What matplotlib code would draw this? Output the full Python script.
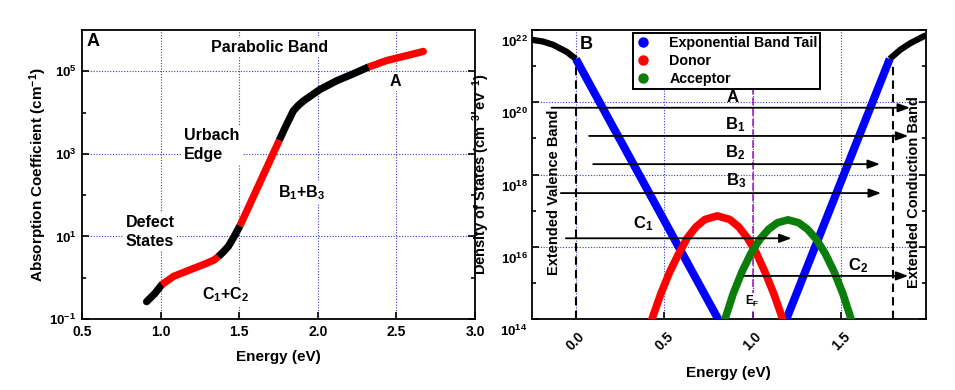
import numpy as np
import matplotlib
matplotlib.use('Agg')
import matplotlib.pyplot as plt
from matplotlib.lines import Line2D
from matplotlib.ticker import FixedLocator, NullFormatter
from matplotlib.transforms import ScaledTranslation

plt.rcParams['font.family'] = ['Liberation Sans', 'DejaVu Sans']
plt.rcParams['font.weight'] = 'bold'
plt.rcParams['axes.labelweight'] = 'bold'
plt.rcParams['mathtext.fontset'] = 'custom'
plt.rcParams['mathtext.rm'] = 'Liberation Sans:bold'
plt.rcParams['mathtext.it'] = 'Liberation Sans:bold'
plt.rcParams['mathtext.bf'] = 'Liberation Sans:bold'
plt.rcParams['axes.linewidth'] = 1.3

# ---- panel A : absorption coefficient (log10 of cm^-1)
abs_E = [0.911, 0.964, 1.007, 1.081, 1.187, 1.293, 1.340, 1.367, 1.40, 1.431, 1.465, 1.505,
         1.632, 1.755, 1.79, 1.844, 1.875, 1.908, 2.014, 2.12, 2.226, 2.321, 2.438, 2.566, 2.671]
abs_log = [-0.58, -0.38, -0.17, 0.03, 0.19, 0.35, 0.43, 0.51, 0.63, 0.76, 0.98, 1.26,
           2.31, 3.33, 3.62, 4.04, 4.17, 4.28, 4.56, 4.77, 4.94, 5.10, 5.26, 5.38, 5.48]
# index where colour switches, and colour of each piece
abs_breaks = [0, 2, 7, 11, 13, 21, 24]
abs_colors = ['black', 'red', 'black', 'red', 'black', 'red']

# ---- panel B : density of states (log10 of cm^-3 eV^-1)
vb_E = [-0.25, -0.185, -0.128, -0.053, 0.0]
vb_log = [21.73, 21.68, 21.59, 21.40, 21.2]
cb_E = [1.775, 1.834, 1.89, 1.965, 1.98]
cb_log = [21.2, 21.45, 21.63, 21.82, 21.85]
vtail_E = [0.0, 0.83]
vtail_log = [21.2, 13.78]
ctail_E = [1.174, 1.775]
ctail_log = [13.8, 21.2]
donor_E = [0.415, 0.43, 0.48, 0.53, 0.58, 0.63, 0.68, 0.73, 0.80, 0.87, 0.92, 0.97, 1.02, 1.07, 1.12, 1.17, 1.185]
donor_log = [13.8, 14.0, 14.7, 15.3, 15.8, 16.25, 16.56, 16.76, 16.86, 16.76, 16.56, 16.25, 15.84, 15.3, 14.7, 14.0, 13.8]
acc_E = [0.83, 0.843, 0.89, 0.94, 0.99, 1.04, 1.09, 1.14, 1.20, 1.26, 1.31, 1.36, 1.41, 1.46, 1.51, 1.557, 1.57]
acc_log = [13.8, 14.0, 14.71, 15.32, 15.82, 16.21, 16.49, 16.67, 16.75, 16.67, 16.49, 16.21, 15.82, 15.32, 14.71, 14.0, 13.8]

# transitions: name, start E, end E, log10 level, label pos
arrow_names = ['A', 'B$_1$', 'B$_2$', 'B$_3$', 'C$_1$', 'C$_2$']
arrow_start = [-0.138, 0.075, 0.098, -0.085, -0.057, 0.951]
arrow_end = [1.89, 1.88, 1.72, 1.726, 1.22, 1.88]
arrow_log = [19.85, 19.07, 18.29, 17.49, 16.24, 15.2]
label_E = [0.855, 0.843, 0.843, 0.848, 0.321, 1.541]
label_log = [20.14, 19.37, 18.61, 17.83, 16.64, 15.48]

fig = plt.figure(figsize=(9.55, 3.9), dpi=100)
ax1 = fig.add_axes([0.0859, 0.1821, 0.4115, 0.741])
ax2 = fig.add_axes([0.5567, 0.1813, 0.4129, 0.7418])

gridkw = dict(color='#3a3ad0', linestyle=(0, (1, 1.5)), linewidth=0.8)
wbox = dict(facecolor='white', edgecolor='none', pad=1.5)

# ---------------- left panel
for k in range(len(abs_colors)):
    i0, i1 = abs_breaks[k], abs_breaks[k + 1]
    cap = 'round' if k in (0, len(abs_colors) - 1) else 'butt'
    z = 3 if cap == 'round' else 4
    ax1.plot(abs_E[i0:i1 + 1], 10 ** np.array(abs_log[i0:i1 + 1]), color=abs_colors[k],
             lw=5.3, solid_capstyle=cap, solid_joinstyle='round', zorder=z)

ax1.set_yscale('log')
ax1.set_xlim(0.5, 3.0)
ax1.set_ylim(1e-1, 1e6)
ax1.set_xticks([0.5, 1.0, 1.5, 2.0, 2.5, 3.0])
ax1.set_xticklabels(['0.5', '1.0', '1.5', '2.0', '2.5', '3.0'], fontsize=10, fontweight='bold')
ax1.yaxis.set_major_locator(FixedLocator([1e-1, 1e1, 1e3, 1e5]))
ax1.set_yticklabels(['$10^{-1}$', '$10^{1}$', '$10^{3}$', '$10^{5}$'], fontsize=9.5)
ax1.yaxis.set_minor_locator(FixedLocator([1e0, 1e2, 1e4]))
ax1.yaxis.set_minor_formatter(NullFormatter())
ax1.tick_params(which='both', direction='in', right=True, width=1.2)
ax1.tick_params(which='major', length=5, pad=4)
ax1.tick_params(which='minor', length=3)
for x in [1.0, 1.5, 2.0, 2.5]:
    ax1.axvline(x, zorder=0, **gridkw)
for y in [1e1, 1e3, 1e5]:
    ax1.axhline(y, zorder=0, **gridkw)
ax1.set_xlabel('Energy (eV)', fontsize=11, fontweight='bold')
ax1.set_ylabel('Absorption Coefficient (cm$^{-1}$)', fontsize=11, fontweight='bold')
ax1.xaxis.set_label_coords(0.5, -0.109)
ax1.yaxis.set_label_coords(-0.084, 0.5)

ax1.text(0.572, 10 ** 5.71, 'A', fontsize=13, ha='center', va='center')
ax1.text(1.69, 10 ** 5.575, 'Parabolic Band', fontsize=11.5, ha='center', va='center', bbox=wbox, zorder=2)
ax1.text(2.495, 10 ** 4.75, 'A', fontsize=11.5, ha='center', va='center', bbox=wbox, zorder=2)
ax1.text(1.151, 10 ** 3.21, 'Urbach\nEdge', fontsize=11.5, ha='left', va='center',
         linespacing=1.3, bbox=wbox, zorder=2)
ax1.text(1.749, 10 ** 2.05, 'B$_1$+B$_3$', fontsize=11.5, ha='left', va='center', bbox=wbox, zorder=2)
ax1.text(0.778, 10 ** 1.106, 'Defect\nStates', fontsize=11.5, ha='left', va='center',
         linespacing=1.3, bbox=wbox, zorder=2)
ax1.text(1.265, 10 ** -0.40, 'C$_1$+C$_2$', fontsize=11.5, ha='left', va='center', bbox=wbox, zorder=2)

# ---------------- right panel
ax2.plot(vb_E, 10 ** np.array(vb_log), color='black', lw=4.5, solid_capstyle='butt', zorder=3)
ax2.plot(cb_E, 10 ** np.array(cb_log), color='black', lw=4.5, solid_capstyle='butt', zorder=3)
ax2.plot(vtail_E, 10 ** np.array(vtail_log), color='#0000ff', lw=5.8, solid_capstyle='butt', zorder=4)
ax2.plot(ctail_E, 10 ** np.array(ctail_log), color='#0000ff', lw=5.8, solid_capstyle='butt', zorder=4)
ax2.plot(donor_E, 10 ** np.array(donor_log), color='#ff0000', lw=5.5, solid_capstyle='butt', zorder=4)
ax2.plot(acc_E, 10 ** np.array(acc_log), color='#0b7d0b', lw=5.5, solid_capstyle='butt', zorder=5)

# band edges and Fermi level
ax2.plot([0.0, 0.0], [1e14, 10 ** 21.2], color='black', lw=1.5, dashes=(4, 2.5), zorder=2)
ax2.plot([1.796, 1.796], [1e14, 10 ** 21.0], color='black', lw=1.5, dashes=(4, 2.5), zorder=2)
ax2.axvline(1.0, color='#a010c8', lw=1.1, dashes=(5, 2), zorder=2)
ax2.text(1.0, 10 ** 14.49, 'E$_\\mathregular{F}$', fontsize=8.5, ha='center', va='center',
         bbox=dict(facecolor='white', edgecolor='none', pad=1), zorder=3)

for name, x0, x1, y, lx, ly in zip(arrow_names, arrow_start, arrow_end, arrow_log, label_E, label_log):
    ax2.annotate('', xy=(x1, 10 ** y), xytext=(x0, 10 ** y),
                 arrowprops=dict(arrowstyle='-|>,head_length=0.6,head_width=0.22', color='black',
                                 lw=1.3, shrinkA=0, shrinkB=0, mutation_scale=12), zorder=6)
    ax2.text(lx, 10 ** ly, name, fontsize=12, ha='left', va='center', zorder=6)

ax2.text(-0.125, 10 ** 17.5, 'Extended Valence Band', fontsize=10.5, rotation=90,
         ha='center', va='center', zorder=6)
ax2.text(1.915, 10 ** 17.52, 'Extended Conduction Band', fontsize=10.5, rotation=90,
         ha='center', va='center', zorder=6)
ax2.text(0.06, 10 ** 21.59, 'B', fontsize=13, ha='center', va='center', zorder=6)

ax2.set_yscale('log')
ax2.set_xlim(-0.25, 1.98)
ax2.set_ylim(1e14, 1e22)
ax2.set_xticks([0.0, 0.5, 1.0, 1.5])
ax2.set_xticklabels(['0.0', '0.5', '1.0', '1.5'], fontsize=10, fontweight='bold', rotation=45, ha='center')
ax2.yaxis.set_major_locator(FixedLocator([1e14, 1e16, 1e18, 1e20, 1e22]))
ax2.set_yticklabels(['$10^{14}$', '$10^{16}$', '$10^{18}$', '$10^{20}$', '$10^{22}$'], fontsize=9.5)
ax2.yaxis.set_minor_locator(FixedLocator([1e15, 1e17, 1e19, 1e21]))
ax2.yaxis.set_minor_formatter(NullFormatter())
ax2.tick_params(which='both', direction='in', right=True, width=1.2)
ax2.tick_params(which='major', length=5)
ax2.tick_params(which='minor', length=3)
ax2.tick_params(axis='x', pad=7)
ax2.tick_params(axis='y', pad=3)
# the y labels sit a bit below their ticks in the original
shift = ScaledTranslation(0, -0.11, fig.dpi_scale_trans)
for lab in ax2.get_yticklabels():
    lab.set_transform(lab.get_transform() + shift)
for x in [0.0, 0.5, 1.0, 1.5]:
    ax2.axvline(x, zorder=0, **gridkw)
for y in [1e16, 1e18, 1e20]:
    ax2.axhline(y, zorder=0, **gridkw)
ax2.set_xlabel('Energy (eV)', fontsize=11, fontweight='bold')
ax2.set_ylabel('Density of States (cm$^{-3}$ eV$^{-1}$)', fontsize=10.5, fontweight='bold')
ax2.xaxis.set_label_coords(0.5, -0.16)
ax2.yaxis.set_label_coords(-0.1, 0.5)

handles = [Line2D([], [], ls='none', marker='o', ms=6.5, color='#0000ff'),
           Line2D([], [], ls='none', marker='o', ms=6.5, color='#ff0000'),
           Line2D([], [], ls='none', marker='o', ms=6.5, color='#0b7d0b')]
leg = ax2.legend(handles, ['Exponential Band Tail', 'Donor', 'Acceptor'], loc='upper left',
                 bbox_to_anchor=(0.258, 0.9885), frameon=True, fancybox=False, framealpha=1,
                 edgecolor='black', borderpad=0.2, handlelength=1.0, handletextpad=1.3,
                 labelspacing=0.28, borderaxespad=0, prop=dict(weight='bold', size=10.3))
leg.get_frame().set_linewidth(1.4)
leg.set_zorder(7)

fig.savefig('out.png', dpi=100)
